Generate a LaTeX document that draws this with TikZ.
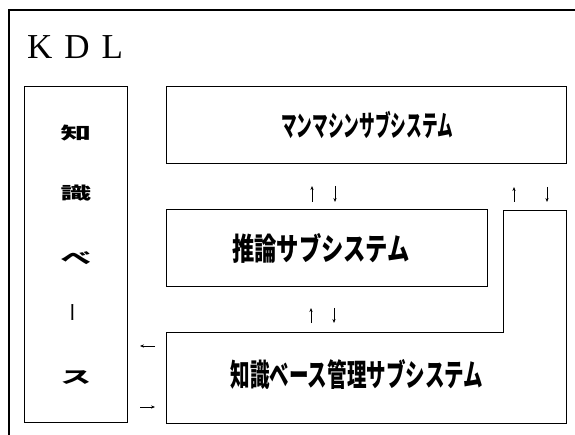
\documentclass[tikz,border=0pt]{standalone}
\usepackage{fontspec}
\usepackage{graphicx}
\setmainfont{Liberation Serif}
\newfontfamily\jp{Noto Sans CJK JP}
\usetikzlibrary{arrows.meta}
\begin{document}
\begin{tikzpicture}[x=1pt,y=-1pt,
  box/.style={draw, line width=0.8pt, inner sep=0pt, outer sep=0pt, anchor=north west},
  jtxt/.style={font=\jp\bfseries, inner sep=0pt},
  kbtxt/.style={font=\jp\bfseries\fontsize{17}{17}\selectfont, inner sep=0pt},
  arr/.style={-{Stealth[length=4pt,width=3.2pt]}, line width=0.7pt}]
\useasboundingbox (0,0) rectangle (575,435);
% outer frame (cropped on right and bottom)
\begin{scope}
\clip (0,0) rectangle (575,435);
\draw[line width=1.4pt] (9,10) rectangle (600,460);
\end{scope}
% title
\node[anchor=base west, inner sep=0pt] (kdl) at (27,59) {\fontsize{35}{35}\selectfont K\hspace{12pt}D\hspace{12pt}L};
% boxes
\node[box, minimum width=103pt, minimum height=336pt] (kb) at (24,86) {};
\node[box, minimum width=400pt, minimum height=77pt] (mm) at (166,86) {};
\node[box, minimum width=321pt, minimum height=77pt] (inf) at (166,209) {};
% L-shaped knowledge base management box
\coordinate (m1) at (166,332);
\coordinate (m2) at (503,332);
\coordinate (m3) at (503,210);
\coordinate (m4) at (566,210);
\coordinate (m5) at (566,423);
\coordinate (m6) at (166,423);
\draw[line width=0.8pt] (m1) -- (m2) -- (m3) -- (m4) -- (m5) -- (m6) -- cycle;
% box texts
\node[jtxt] (mmt) at (367,125) {\fontsize{29}{29}\selectfont\scalebox{0.54}[1]{マンマシンサブシステム}};
\node[jtxt] (inft) at (321,248) {\fontsize{31}{31}\selectfont\scalebox{0.72}[1]{推論サブシステム}};
\node[jtxt] (mgt) at (357,374) {\fontsize{31}{31}\selectfont\scalebox{0.63}[1]{知識ベース管理サブシステム}};
% vertical knowledge base text
\node[kbtxt] (k1) at (76,133) {\scalebox{1.8}[1]{知}};
\node[kbtxt] (k2) at (76,193) {\scalebox{1.8}[1]{識}};
\node[kbtxt] (k3) at (76,258) {\scalebox{1.8}[1]{べ}};
\node[font=\jp, inner sep=0pt] (k4) at (76,313) {\fontsize{20}{20}\selectfont\rotatebox{90}{ー}};
\node[kbtxt] (k5) at (76,378) {\scalebox{1.8}[1]{ス}};
% arrows
\coordinate (a1s) at (312,202); \coordinate (a1e) at (312,186);
\coordinate (a2s) at (335,186); \coordinate (a2e) at (335,202);
\coordinate (a3s) at (514,202); \coordinate (a3e) at (514,187);
\coordinate (a4s) at (547,187); \coordinate (a4e) at (547,202);
\coordinate (a5s) at (311,323); \coordinate (a5e) at (311,308);
\coordinate (a6s) at (334,308); \coordinate (a6e) at (334,323);
\coordinate (a7s) at (155,346); \coordinate (a7e) at (140,346);
\coordinate (a8s) at (140,407); \coordinate (a8e) at (155,407);
\draw[arr] (a1s) -- (a1e);
\draw[arr] (a2s) -- (a2e);
\draw[arr] (a3s) -- (a3e);
\draw[arr] (a4s) -- (a4e);
\draw[arr] (a5s) -- (a5e);
\draw[arr] (a6s) -- (a6e);
\draw[arr] (a7s) -- (a7e);
\draw[arr] (a8s) -- (a8e);
\end{tikzpicture}
\end{document}
